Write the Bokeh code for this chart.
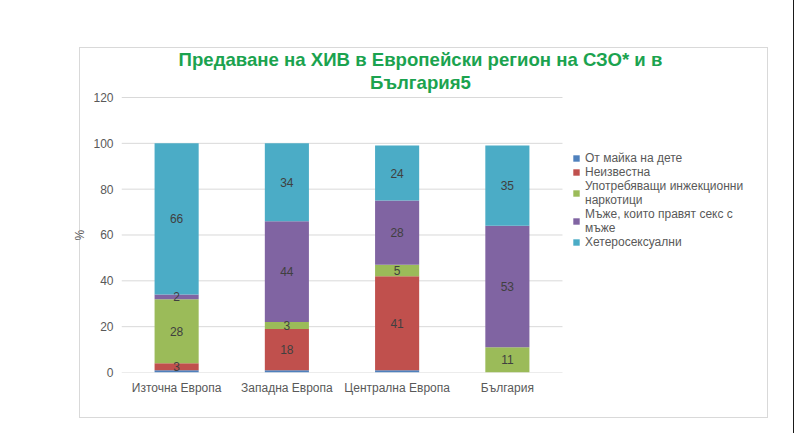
from bokeh.plotting import figure
from bokeh.models import (ColumnDataSource, LabelSet, Label, Legend,
                          LegendItem, Range1d, FixedTicker, Title)
from bokeh.embed import file_html
from bokeh.resources import INLINE
from bokeh.core.properties import value

categories = ["Източна Европа", "Западна Европа", "Централна Европа", "България"]
mother = [1, 1, 1, 0]
unknown = [3, 18, 41, 0]
idu = [28, 3, 5, 11]
msm = [2, 44, 28, 53]
hetero = [66, 34, 24, 35]
series_keys = ["mother", "unknown", "idu", "msm", "hetero"]
series_labels = ["От майка на дете", "Неизвестна",
                 "Употребяващи инжекционни\nнаркотици",
                 "Мъже, които правят секс с\nмъже", "Хетеросексуални"]
series_show_labels = [False, True, True, True, True]
colors = ["#4f81bd", "#c0504d", "#9bbb59", "#8064a2", "#4bacc6"]
y_ticks = [0, 20, 40, 60, 80, 100, 120]
title_lines = ["Предаване на ХИВ в Европейски регион на СЗО* и в", "България5"]
y_label = "%"

FONT = "Liberation Sans"
GRAY = "#595959"
BOX = "linear-gradient(#d9d9d9,#d9d9d9)"
EDGE = "linear-gradient(#1a1a1a,#1a1a1a)"

xpos = [i + 0.5 for i in range(len(categories))]
data = {"x": xpos, "mother": mother, "unknown": unknown, "idu": idu,
        "msm": msm, "hetero": hetero}
source = ColumnDataSource(data)

p = figure(width=794, height=433, x_range=Range1d(0, 5.932),
           y_range=Range1d(0, 141.38), output_backend="svg", toolbar_location=None,
           min_border_left=121, min_border_right=19, min_border_top=48,
           min_border_bottom=61)
# light grey chart-area frame (and the dark page edge), behind the transparent canvas
p.styles = {"background": ", ".join([
    f"{BOX} 79px 47px / 689px 1px no-repeat",
    f"{BOX} 79px 417px / 689px 1px no-repeat",
    f"{BOX} 79px 47px / 1px 371px no-repeat",
    f"{BOX} 767px 47px / 1px 371px no-repeat",
    f"{EDGE} 793px 0px / 1px 433px no-repeat",
    "white"])}
p.outline_line_color = None
p.background_fill_alpha = 0
p.border_fill_alpha = 0
p.xgrid.visible = False
p.ygrid.visible = False

# horizontal gridlines spanning the category area
p.segment(x0=0, x1=len(categories), y0=y_ticks, y1=y_ticks,
          line_color="#d9d9d9", line_width=1)

renderers = p.vbar_stack(series_keys, x="x", width=0.4, color=colors,
                         line_color=None, source=source)

# data labels
lx, ly, lt = [], [], []
cum = [0] * len(categories)
for key, show in zip(series_keys, series_show_labels):
    vals = data[key]
    for i, v in enumerate(vals):
        if show and v > 0:
            lx.append(xpos[i])
            ly.append(cum[i] + v / 2)
            lt.append(str(v))
        cum[i] += v
lab_src = ColumnDataSource(dict(x=lx, y=ly, t=lt))
p.add_layout(LabelSet(x="x", y="y", text="t", source=lab_src, text_align="center",
                      text_baseline="middle", text_font=value(FONT),
                      text_font_size="12px", text_color="#404040"))

# axes
p.yaxis.ticker = FixedTicker(ticks=y_ticks)
p.xaxis.ticker = FixedTicker(ticks=xpos)
p.xaxis.major_label_overrides = {x: c for x, c in zip(xpos, categories)}
for ax in (p.xaxis[0], p.yaxis[0]):
    ax.axis_line_color = None
    ax.major_tick_line_color = None
    ax.minor_tick_line_color = None
    ax.major_tick_out = 0
    ax.major_tick_in = 0
    ax.major_label_text_font = FONT
    ax.major_label_text_font_size = "12px"
    ax.major_label_text_color = GRAY
    ax.major_label_standoff = 8

# y-axis title "%", centred on the 0-120 span
p.add_layout(Title(text=y_label, align="left", offset=132, vertical_align="middle",
                   standoff=6, text_font=FONT, text_font_size="12px",
                   text_font_style="normal", text_color=GRAY), "left")

# legend
items = [LegendItem(label=lbl, renderers=[r]) for lbl, r in zip(series_labels, renderers)]
legend = Legend(items=items, location=(451, 123), border_line_color=None,
                background_fill_alpha=0, padding=0, margin=0, spacing=0,
                glyph_width=8, glyph_height=8, label_standoff=5,
                label_text_font=FONT, label_text_font_size="12px",
                label_height=14, label_text_color=GRAY)
p.add_layout(legend)

# title
for line, yv in zip(title_lines, [136.58, 126.55]):
    p.add_layout(Label(x=2.712, y=yv, text=line, text_align="center",
                       text_baseline="middle",
                       text_font=FONT, text_font_size="18.6px", text_font_style="bold",
                       text_color="#1ba34f"))

open("out.html", "w").write(file_html(p, INLINE))
